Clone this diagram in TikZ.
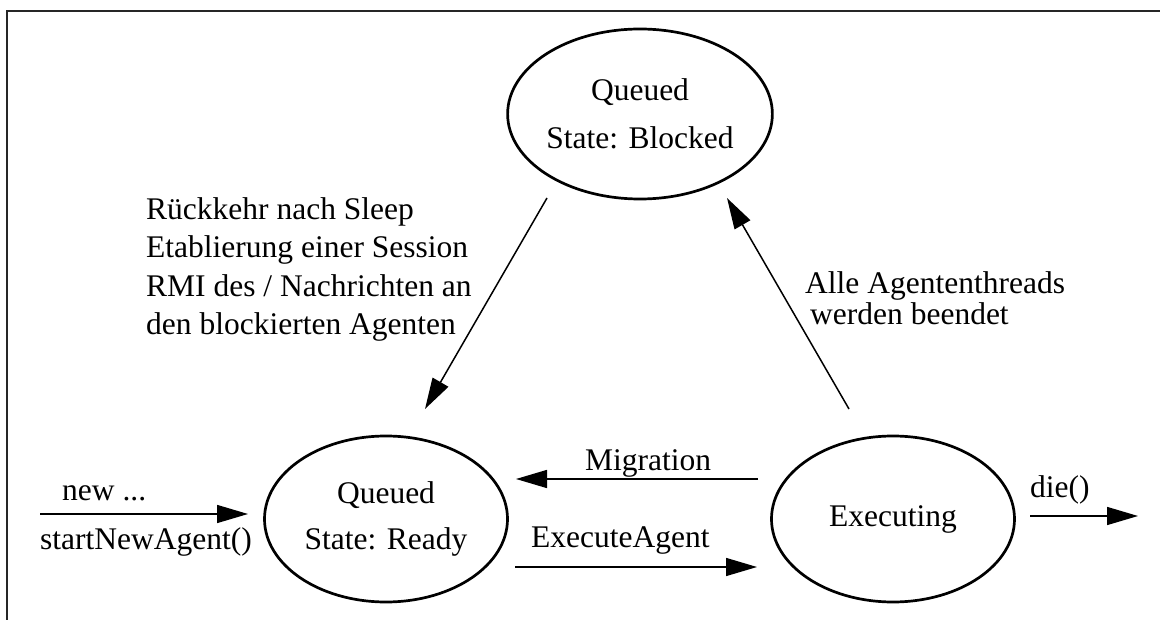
\documentclass[tikz,border=0pt]{standalone}
\usepackage{fontspec}
\setmainfont{Liberation Serif}
\usetikzlibrary{shapes.geometric,arrows.meta}
\begin{document}
\begin{tikzpicture}[x=1pt,y=-1pt,
  state/.style={draw,line width=2.7pt,ellipse,inner sep=0pt,
    minimum width=243pt,minimum height=166pt,align=center,
    font=\fontsize{31.5}{46}\selectfont},
  lbl/.style={inner sep=0pt,font=\fontsize{31.5}{38.5}\selectfont},
  arr/.style={line width=1.5pt,-{Triangle[length=31pt,width=18pt]}}]
  \useasboundingbox (0,0) rectangle (1160,620);
  % frame
  \draw[line width=2pt,draw=black!85] (7,620) -- (7,11) -- (1160,11);

  % states
  \node[state,minimum width=244pt,minimum height=170pt,
        font=\fontsize{31.5}{48}\selectfont] (blocked) at (640,114) {Queued\\State: Blocked};
  \node[state] (ready)   at (386,519) {Queued\\State: Ready};
  \node[state] (exec)    at (893,519) {Executing};

  % connector end points
  \coordinate (newS)  at (40,514);   \coordinate (newE)  at (248,514);
  \coordinate (migS)  at (758,479);  \coordinate (migE)  at (516,479);
  \coordinate (exS)   at (515,567);  \coordinate (exE)   at (757,567);
  \coordinate (dieS)  at (1030,516); \coordinate (dieE)  at (1138,516);
  \coordinate (wakeS) at (547,198);  \coordinate (wakeE) at (425,409);
  \coordinate (blkS)  at (849,409);  \coordinate (blkE)  at (727,198);

  \draw[arr] (newS) -- (newE);
  \draw[arr] (migS) -- (migE);
  \draw[arr] (exS) -- (exE);
  \draw[arr] (dieS) -- (dieE);
  \draw[arr] (wakeS) -- (wakeE);
  \draw[arr] (blkS) -- (blkE);

  % labels
  \node[lbl,anchor=base west] (lnew) at (62,500) {new ...};
  \node[lbl,anchor=base west] (lstart) at (40,549) {startNewAgent()};
  \node[lbl,anchor=base west] (lmig) at (585,470) {Migration};
  \node[lbl,anchor=base west] (lexa) at (531,547) {ExecuteAgent};
  \node[lbl,anchor=base west] (ldie) at (1030,497) {die()};
  \node[lbl,anchor=north west,align=left] (lwake) at (146,197)
    {Rückkehr nach Sleep\\Etablierung einer Session\\RMI des / Nachrichten an\\den blockierten Agenten};
  \node[lbl,anchor=north west,align=left,font=\fontsize{31.5}{31}\selectfont] (lend) at (805,271)
    {Alle Agententhreads\\\hspace{5pt}werden beendet};
\end{tikzpicture}
\end{document}
